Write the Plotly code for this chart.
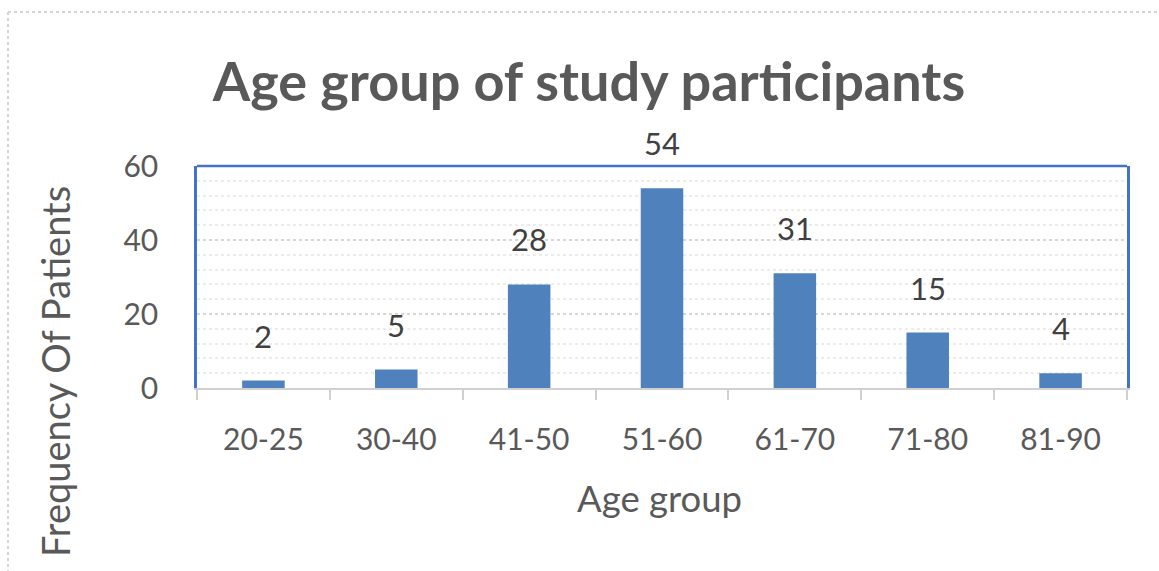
import plotly.graph_objects as go

# Age distribution of study participants
age_groups = ["20-25", "30-40", "41-50", "51-60", "61-70", "71-80", "81-90"]
patients = [2, 5, 28, 54, 31, 15, 4]
y_ticks = [0, 20, 40, 60]

W, H = 1159, 571
L, R, T, B = 197, 32, 166, 183
pw = W - L - R
ph = H - T - B

BAR = "#4F81BD"
FRAME = "#4472C4"
TEXT = "#595959"
FONT = "Lato, 'Open Sans', sans-serif"

fig = go.Figure(
    go.Bar(
        x=age_groups,
        y=patients,
        width=0.32,
        marker=dict(color=BAR, line=dict(width=0)),
        cliponaxis=False,
    )
)


def px_x(px):
    return (px - L) / pw


def px_y(py):
    return 1 - (py - T) / ph


# value labels above each bar
annotations = [
    dict(x=g, y=v, xref="x", yref="y", text=str(v), showarrow=False,
         yanchor="bottom", yshift=24,
         font=dict(size=31, color="#404040", family=FONT))
    for g, v in zip(age_groups, patients)
]
# axis titles
annotations += [
    dict(x=px_x(659), y=px_y(498), xref="paper", yref="paper", text="Age group",
         showarrow=False, xanchor="center", yanchor="middle",
         font=dict(size=36.5, color=TEXT, family=FONT)),
    dict(x=px_x(55), y=px_y(372), xref="paper", yref="paper",
         text="Frequency Of Patients", textangle=-90, showarrow=False,
         xanchor="center", yanchor="middle",
         font=dict(size=38, color=TEXT, family=FONT)),
]

shapes = [
    # blue frame along the top of the plot area
    dict(type="line", xref="paper", yref="paper", x0=0, x1=1, y0=1, y1=1,
         line=dict(color=FRAME, width=2.5)),
    # light outer border of the chart area
    dict(type="line", xref="paper", yref="paper", x0=px_x(8), x1=px_x(W + 5),
         y0=px_y(12), y1=px_y(12), line=dict(color="#d4d4d4", width=2, dash="dot")),
    dict(type="line", xref="paper", yref="paper", x0=px_x(8), x1=px_x(8),
         y0=px_y(12), y1=px_y(H + 5), line=dict(color="#d4d4d4", width=2, dash="dot")),
]

fig.update_layout(
    width=W,
    height=H,
    margin=dict(l=L, r=R, t=T, b=B),
    paper_bgcolor="white",
    plot_bgcolor="white",
    showlegend=False,
    bargap=0.68,
    title=dict(
        text="<b>Age group of study participants</b>",
        x=(210 + 968) / 2 / W,
        xanchor="center",
        y=1 - 82 / H,
        yanchor="middle",
        font=dict(size=54, color=TEXT, family=FONT),
    ),
    font=dict(family=FONT, color=TEXT),
    shapes=shapes,
    annotations=annotations,
)

fig.update_xaxes(
    tickfont=dict(size=30, color=TEXT),
    showline=True,
    linecolor="#d0d0d0",
    linewidth=2,
    ticks="outside",
    tickson="boundaries",
    ticklen=10,
    tickwidth=2,
    tickcolor="#d0d0d0",
    showgrid=False,
    ticklabelstandoff=24,
)

fig.update_yaxes(
    range=[0, 60],
    tickvals=y_ticks,
    tickfont=dict(size=30, color=TEXT),
    showline=True,
    mirror=True,
    linecolor=FRAME,
    linewidth=2.5,
    ticks="",
    ticklabelstandoff=30,
    showgrid=True,
    gridcolor="#d6d6d6",
    griddash="dot",
    gridwidth=1.5,
    minor=dict(dtick=4, showgrid=True, gridcolor="#ececec", gridwidth=1.5),
    zeroline=False,
)

fig.write_html("out.html")
